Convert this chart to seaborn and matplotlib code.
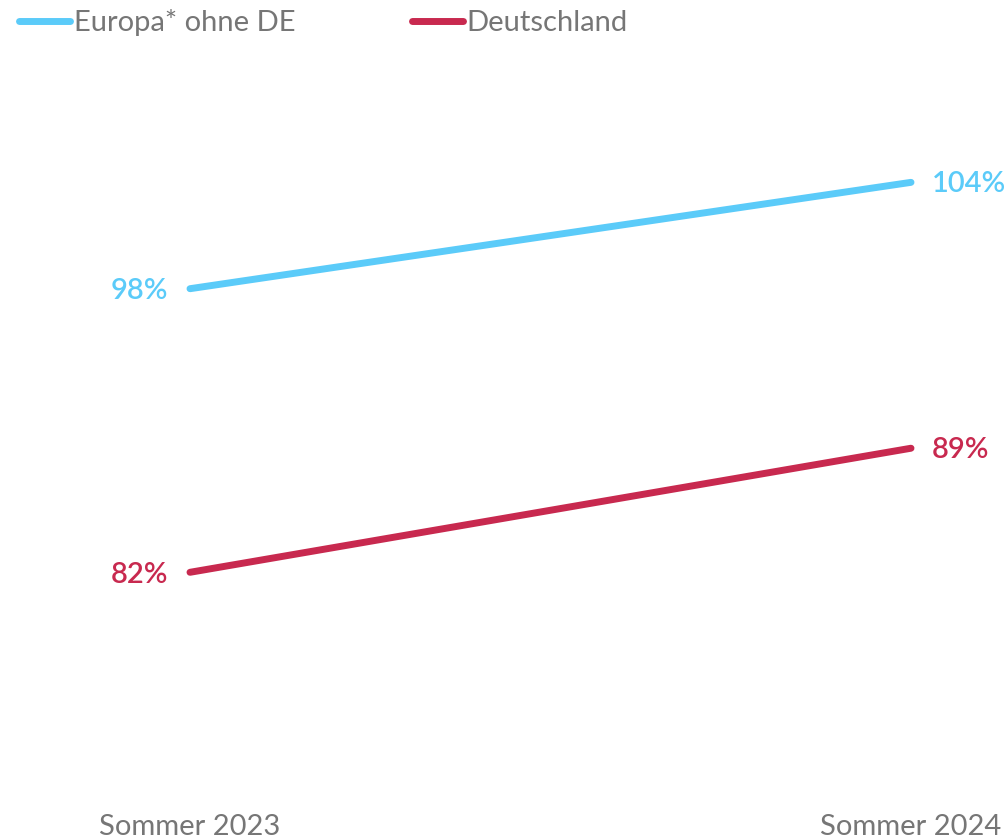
import pandas as pd
import matplotlib.pyplot as plt
import seaborn as sns

# data
periods = ["Sommer 2023", "Sommer 2024"]
europa = [98, 104]
deutschland = [82, 89]
series_names = ["Europa* ohne DE", "Deutschland"]
palette = ["#5BCBF9", "#C8294F"]

df = pd.DataFrame({
    "period": periods * 2,
    "x": [0, 1] * 2,
    "value": europa + deutschland,
    "series": [series_names[0]] * 2 + [series_names[1]] * 2,
})

sns.set_style("white")
plt.rcParams["font.family"] = ["Lato", "DejaVu Sans"]

fig = plt.figure(figsize=(10.07, 8.4), dpi=100)
ax = fig.add_axes([190 / 1007, 1 - 785 / 840, (911 - 190) / 1007, (785 - 76) / 840])

sns.lineplot(data=df, x="x", y="value", hue="series", palette=palette,
             linewidth=5, ax=ax, legend=False,
             solid_capstyle="round")
for line in ax.get_lines():
    line.set_clip_on(False)

ax.set_xlim(0, 1)
ax.set_ylim(70, 110)
sns.despine(ax=ax, left=True, bottom=True)
ax.set_yticks([])
ax.set_xticks([0, 1])
ax.set_xticklabels(periods, fontsize=21, color="#767676")
ax.tick_params(axis="x", length=0, pad=21)
ax.set_xlabel("")
ax.set_ylabel("")

# value labels
for vals, col in zip([europa, deutschland], palette):
    ax.annotate(f"{vals[0]}%", (0, vals[0]), xytext=(-16, -2), textcoords="offset points",
                ha="right", va="center", fontsize=21, color=col, fontweight="semibold")
    ax.annotate(f"{vals[1]}%", (1, vals[1]), xytext=(15, -1), textcoords="offset points",
                ha="left", va="center", fontsize=21, color=col, fontweight="semibold")

# legend
handles = [plt.Line2D([], [], color=c, linewidth=5, solid_capstyle="round") for c in palette]
fig.legend(handles, series_names, loc="upper left", bbox_to_anchor=(-0.007, 1.02),
           ncol=2, frameon=False, fontsize=21, labelcolor="#767676",
           handlelength=1.75, handletextpad=0.12, columnspacing=4.0)

fig.savefig("out.png", dpi=100)
